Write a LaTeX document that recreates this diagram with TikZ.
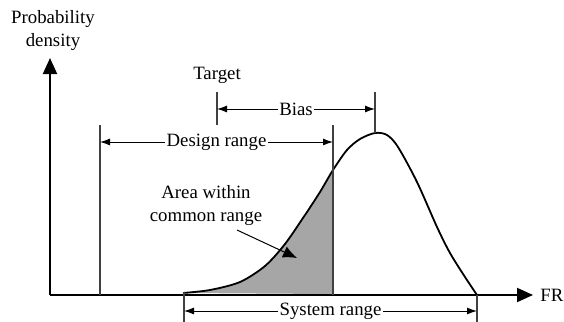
\documentclass[tikz,border=0pt]{standalone}
\usepackage{fontspec}
\setmainfont{Liberation Serif}
\usetikzlibrary{arrows.meta}

\begin{document}
\begin{tikzpicture}[x=0.5pt,y=-0.5pt]
\tikzset{axis/.style = {line width=1pt,-{Triangle[length=8pt,width=7pt]}}}
\tikzset{dim/.style = {line width=0.5pt,{Latex[length=5pt,width=3.5pt]}-{Latex[length=5pt,width=3.5pt]}}}
\tikzset{guide/.style = {line width=0.6pt,draw=black!75}}
\tikzset{lbl/.style = {font=\fontsize{9.4}{11.5}\selectfont,inner sep=0.6pt,align=center}}
\tikzset{curve/.style = {line width=0.9pt}}
\useasboundingbox (0,0) rectangle (564,322);
% axes
\coordinate (o) at (50,295);
\coordinate (ytip) at (50,58);
\coordinate (xtip) at (533,295);
\node[lbl] (ylab) at (53,31) {Probability\\density};
\node[lbl,anchor=west,inner sep=0pt] (xlab) at (540,295) {FR};
\draw[axis] (o) -- (ytip);
\draw[axis] (o) -- (xtip);
% density curve
\begin{scope}
\clip (183,0) rectangle (333,295);
\fill[gray!70] plot[smooth] coordinates {(183,293) (210,290) (240,282) (265,266) (285,244) (305,215) (320,192) (333,170) (347,150) (360,139) (375,133) (387,135) (398,147) (417,182) (437,227) (450,253) (465,277) (477,295)} -- cycle;
\end{scope}
\draw[curve] plot[smooth] coordinates {(183,293) (210,290) (240,282) (265,266) (285,244) (305,215) (320,192) (333,170) (347,150) (360,139) (375,133) (387,135) (398,147) (417,182) (437,227) (450,253) (465,277) (477,295)};
% guide lines
\coordinate (dl) at (100,142);
\coordinate (dr) at (333,142);
\coordinate (tg) at (217,109);
\coordinate (pk) at (375,109);
\coordinate (sl) at (184,311);
\coordinate (sr) at (477,311);
\draw[guide] (100,125) -- (100,295);
\draw[guide] (333,125) -- (333,295);
\draw[guide] (217,92) -- (217,125);
\draw[guide] (375,92) -- (375,133);
\draw[guide] (184,292) -- (184,322);
\draw[guide] (477,295) -- (477,322);
\node[lbl] (target) at (217,75) {Target};
% ranges
\draw[dim] (dl) -- node[lbl,fill=white] (design) {Design range} (dr);
\draw[dim] (tg) -- node[lbl,fill=white] (bias) {Bias} (pk);
\draw[dim] (sl) -- node[lbl,fill=white] (system) {System range} (sr);
% common area
\node[lbl] (area) at (206,206) {Area within\\common range};
\coordinate (ain) at (297,258);
\draw[line width=0.5pt,-{Latex[length=7pt,width=6pt]}] (237,230) -- (ain);
\end{tikzpicture}
\end{document}
